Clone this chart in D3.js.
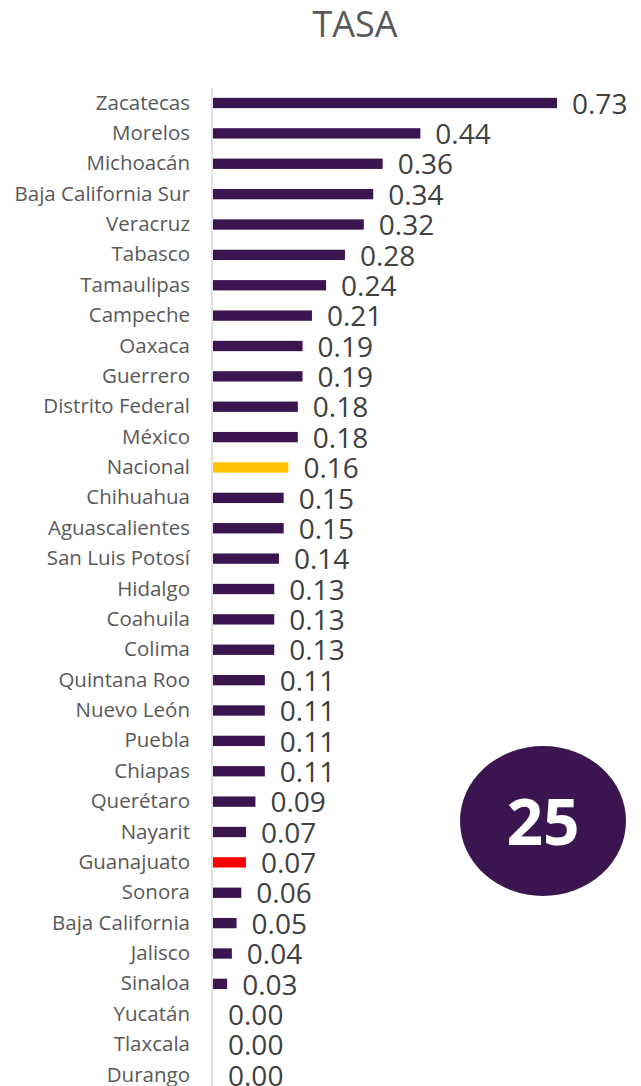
<!DOCTYPE html>
<html>
<head>
<meta charset="utf-8">
<script src="https://cdn.jsdelivr.net/npm/d3@7"></script>
<style>
	body { margin: 0; background: #fff; }
	text { font-family: 'Open Sans', sans-serif; }
</style>
</head>
<body>
<svg width="641" height="1086"></svg>
<script>
const states = ['Zacatecas', 'Morelos', 'Michoacán', 'Baja California Sur', 'Veracruz', 'Tabasco',
	'Tamaulipas', 'Campeche', 'Oaxaca', 'Guerrero', 'Distrito Federal', 'México', 'Nacional',
	'Chihuahua', 'Aguascalientes', 'San Luis Potosí', 'Hidalgo', 'Coahuila', 'Colima',
	'Quintana Roo', 'Nuevo León', 'Puebla', 'Chiapas', 'Querétaro', 'Nayarit', 'Guanajuato',
	'Sonora', 'Baja California', 'Jalisco', 'Sinaloa', 'Yucatán', 'Tlaxcala', 'Durango'];
const rates = [0.73, 0.44, 0.36, 0.34, 0.32, 0.28, 0.24, 0.21, 0.19, 0.19, 0.18, 0.18, 0.16,
	0.15, 0.15, 0.14, 0.13, 0.13, 0.13, 0.11, 0.11, 0.11, 0.11, 0.09, 0.07, 0.07,
	0.06, 0.05, 0.04, 0.03, 0.00, 0.00, 0.00];
const highlight = { 'Nacional': '#FFC000', 'Guanajuato': '#FF0000' };
const title = 'TASA';
const rank = '25';

const data = states.map((s, i) => ({ state: s, rate: rates[i] }));

const svg = d3.select('svg');
const x0 = 213;
const step = 30.375;

const x = d3.scaleLinear()
	.domain([0, 0.73])
	.range([x0, 557]);

const y = d3.scaleBand()
	.domain(states)
	.range([103 - step / 2, 103 - step / 2 + step * states.length])
	.paddingInner(0.66)
	.paddingOuter(0.33);

svg.append('text')
	.text(title)
	.attr('x', 355)
	.attr('y', 37)
	.attr('text-anchor', 'middle')
	.attr('fill', '#595959')
	.attr('font-size', 36);

svg.append('g')
	.selectAll('rect')
	.data(data)
	.enter()
	.append('rect')
	.attr('x', x0)
	.attr('y', d => y(d.state))
	.attr('width', d => x(d.rate) - x0)
	.attr('height', y.bandwidth())
	.attr('fill', d => highlight[d.state] || '#3A1550');

const yAxis = svg.append('g')
	.attr('transform', `translate(${x0 - 1},0)`)
	.call(d3.axisLeft(y).tickSize(0).tickPadding(22));
yAxis.select('.domain').remove();
yAxis.selectAll('text')
	.attr('fill', '#595959')
	.attr('font-size', 20.5)
	.style('font-family', "'Open Sans', sans-serif");

svg.append('line')
	.attr('x1', x0 - 1)
	.attr('x2', x0 - 1)
	.attr('y1', 88)
	.attr('y2', 1086)
	.attr('stroke', '#d9d9d9')
	.attr('stroke-width', 1.5);

svg.append('g')
	.selectAll('text')
	.data(data)
	.enter()
	.append('text')
	.text(d => d.rate.toFixed(2))
	.attr('x', d => x(d.rate) + 15)
	.attr('y', d => y(d.state) + y.bandwidth() / 2)
	.attr('dy', '0.38em')
	.attr('fill', '#404040')
	.attr('font-size', 28);

svg.append('ellipse')
	.attr('cx', 543)
	.attr('cy', 821)
	.attr('rx', 83)
	.attr('ry', 75)
	.attr('fill', '#3A1550');

svg.append('text')
	.text(rank)
	.attr('x', 543)
	.attr('y', 822)
	.attr('dy', '0.36em')
	.attr('text-anchor', 'middle')
	.attr('fill', '#fff')
	.attr('font-weight', 700)
	.attr('font-size', 64);
</script>
</body>
</html>
